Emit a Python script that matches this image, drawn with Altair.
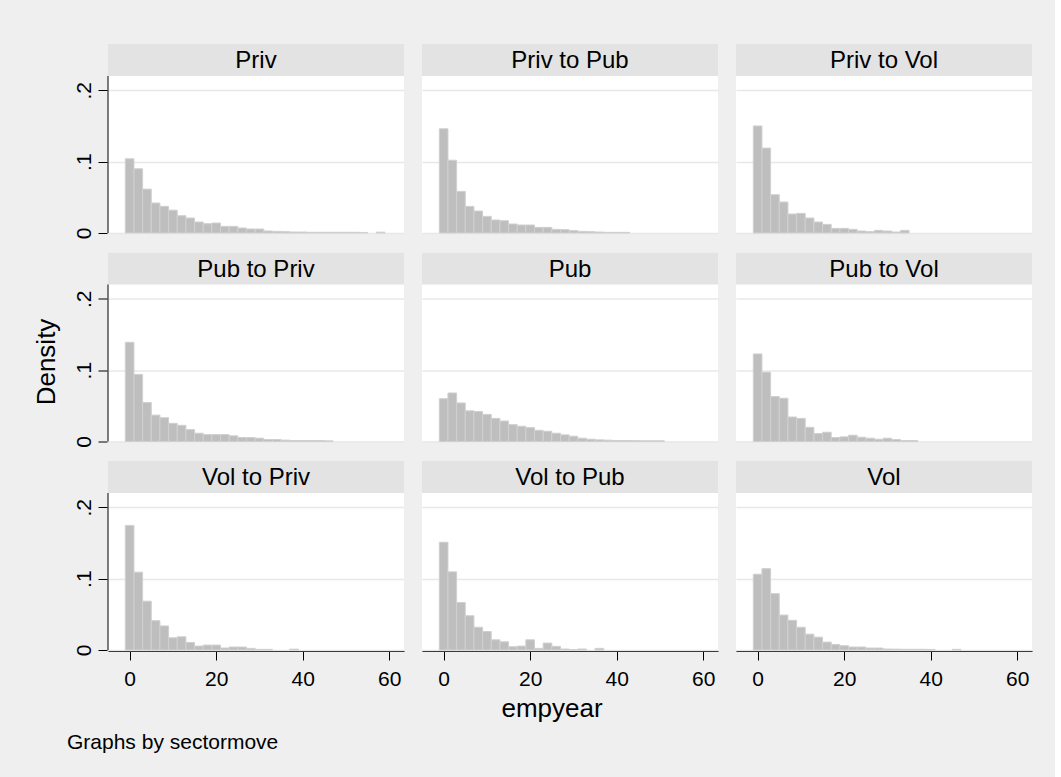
import altair as alt
import pandas as pd

# ---------------- data ----------------
panels = ["Priv", "Priv to Pub", "Priv to Vol",
          "Pub to Priv", "Pub", "Pub to Vol",
          "Vol to Priv", "Vol to Pub", "Vol"]

bin_start = -1.0   # left edge of first bin (empyear)
bin_width = 2.0    # histogram bin width

dens_priv = [0.104, 0.090, 0.0615, 0.042, 0.0373, 0.032, 0.0242, 0.021, 0.0154, 0.013,
             0.014, 0.0093, 0.0093, 0.007, 0.0056, 0.0056, 0.0028, 0.0023, 0.0019, 0.0014,
             0.0014, 0.001, 0.001, 0.001, 0.001, 0.001, 0.001, 0.0008, 0.0, 0.0012]
dens_priv_pub = [0.146, 0.102, 0.0583, 0.0373, 0.0308, 0.0233, 0.0182, 0.0172, 0.0126, 0.0112,
                 0.0112, 0.0079, 0.0079, 0.0051, 0.0047, 0.0033, 0.0023, 0.0019, 0.0014, 0.0009,
                 0.0009, 0.0009]
dens_priv_vol = [0.150, 0.119, 0.0536, 0.0434, 0.0266, 0.0275, 0.021, 0.0154, 0.0121, 0.0065,
                 0.0065, 0.0051, 0.0028, 0.0019, 0.0037, 0.0028, 0.0014, 0.0037]
dens_pub_priv = [0.139, 0.094, 0.0546, 0.037, 0.0333, 0.0255, 0.0227, 0.0167, 0.0116, 0.0097,
                 0.0097, 0.0097, 0.0079, 0.0056, 0.0056, 0.0046, 0.0028, 0.0028, 0.0019, 0.0014,
                 0.0014, 0.0014, 0.0014, 0.0009]
dens_pub = [0.060, 0.068, 0.054, 0.043, 0.042, 0.038, 0.0324, 0.0287, 0.0236, 0.0213,
            0.0194, 0.0157, 0.0144, 0.0116, 0.0093, 0.0074, 0.0046, 0.0032, 0.0023, 0.0019,
            0.0014, 0.0014, 0.0012, 0.001, 0.001, 0.001]
dens_pub_vol = [0.1227, 0.0972, 0.063, 0.0606, 0.0343, 0.0324, 0.0199, 0.0111, 0.013, 0.0056,
                0.0065, 0.0088, 0.006, 0.0046, 0.0032, 0.0046, 0.0028, 0.0014, 0.0014]
dens_vol_priv = [0.1746, 0.109, 0.0684, 0.0411, 0.0337, 0.0171, 0.0185, 0.0106, 0.0055, 0.0069,
                 0.0069, 0.0028, 0.0042, 0.0042, 0.0023, 0.0009, 0.0009, 0.0, 0.0, 0.0012]
dens_vol_pub = [0.151, 0.1095, 0.0665, 0.048, 0.0319, 0.0259, 0.0143, 0.0115, 0.0046, 0.0055,
                0.0143, 0.0023, 0.0097, 0.0051, 0.0014, 0.0005, 0.0014, 0.0, 0.0023]
dens_vol = [0.1062, 0.114, 0.079, 0.049, 0.0416, 0.0319, 0.0222, 0.018, 0.0111, 0.0078,
            0.006, 0.0042, 0.0042, 0.0028, 0.0028, 0.0014, 0.0012, 0.001, 0.001, 0.001,
            0.0008, 0.0, 0.0, 0.0009]

densities = [dens_priv, dens_priv_pub, dens_priv_vol,
             dens_pub_priv, dens_pub, dens_pub_vol,
             dens_vol_priv, dens_vol_pub, dens_vol]

x_ticks = [0, 20, 40, 60]
y_ticks = [0, 0.1, 0.2]

rows = []
for i, (p, ds) in enumerate(zip(panels, densities)):
    for k, d in enumerate(ds):
        rows.append({"panel": p,
                     "x0": bin_start + k * bin_width,
                     "x1": bin_start + (k + 1) * bin_width,
                     "d": d, "zero": 0.0,
                     "first": k == 0, "col": i % 3})
df = pd.DataFrame(rows)

# ---------------- layout ----------------
FONT = "Liberation Sans"
W = 296          # panel width
STRIP = 32       # strip height
PLOT = 157       # plot height (0 .. 0.22)
H = STRIP + PLOT
YTOP = 0.22
ymax = YTOP * H / PLOT

x_scale = alt.Scale(domain=[-5, 63.4], nice=False, zero=False)
y_scale = alt.Scale(domain=[0, ymax], nice=False, zero=True)

x_axis = alt.Axis(values=x_ticks, title=None, grid=False, domain=True,
                  domainColor="black", domainWidth=1, tickColor="black",
                  tickSize=9, tickWidth=1, labelFontSize=21, labelFont=FONT,
                  labelColor="black", labelPadding=8, labelFlush=False,
                  labelOverlap=False)
y_axis = alt.Axis(values=y_ticks, title=None, grid=True, gridColor="#e8e8e8",
                  gridWidth=1.5, domain=False, tickColor="black", tickSize=9,
                  tickWidth=1, labelFontSize=21, labelFont=FONT, labelColor="black",
                  labelAngle=270, labelAlign="center", labelBaseline="alphabetic",
                  labelPadding=8, labelFlush=False, labelOverlap=False,
                  labelExpr="datum.value == 0 ? '0' : '.' + round(datum.value * 10)")

bars = alt.Chart().mark_rect(fill="#bebebe", stroke="#d0d0d0", strokeWidth=1).encode(
    x=alt.X("x0:Q", scale=x_scale, axis=x_axis),
    x2="x1:Q",
    y=alt.Y("d:Q", scale=y_scale, axis=y_axis),
    y2="zero:Q",
).transform_filter("datum.d > 0")

strip = alt.Chart().mark_rect(fill="#e3e3e3").encode(
    x=alt.value(0), x2=alt.value(W), y=alt.value(0), y2=alt.value(STRIP)
).transform_filter("datum.first")

strip_text = alt.Chart().mark_text(fontSize=24, font=FONT, color="black",
                                   baseline="middle", align="center").encode(
    x=alt.value(W / 2), y=alt.value(STRIP / 2 + 1), text="panel:N"
).transform_filter("datum.first")

yline = alt.Chart().mark_rule(color="black", strokeWidth=1).encode(
    x=alt.value(0), y=alt.value(STRIP), y2=alt.value(H)
).transform_filter("datum.first && datum.col == 0")

grid = alt.layer(strip, bars, strip_text, yline).properties(
    width=W, height=H
).facet(
    facet=alt.Facet("panel:N", sort=panels,
                    header=alt.Header(labels=False, title=None, labelFontSize=0,
                                      labelPadding=0, labelExpr="''")),
    columns=3,
    spacing={"row": 18.5, "column": 18},
    data=df,
)

ytitle = alt.Chart(pd.DataFrame({"t": ["Density"]})).mark_text(
    angle=270, fontSize=26, font=FONT, color="black", baseline="middle", align="center"
).encode(text="t:N", x=alt.value(22), y=alt.value(318)).properties(
    width=40, height=604,
    view=alt.ViewBackground(fill="transparent", stroke="transparent"))

xtitle = alt.Chart(pd.DataFrame({"t": ["empyear"]})).mark_text(
    fontSize=26, font=FONT, color="black", baseline="alphabetic", align="center"
).encode(text="t:N", x=alt.value(527), y=alt.value(28))

note = alt.Chart(pd.DataFrame({"t": ["Graphs by sectormove"]})).mark_text(
    fontSize=21, font=FONT, color="black", baseline="alphabetic", align="left"
).encode(text="t:N", x=alt.value(42), y=alt.value(59.5))

foot = alt.layer(xtitle, note).properties(
    width=1000, height=89,
    view=alt.ViewBackground(fill="transparent", stroke="transparent"))

top = alt.hconcat(ytitle, grid, spacing=7)

chart = alt.vconcat(top, foot, spacing=0).properties(
    background="#efefef",
    padding={"left": 25, "top": 44, "right": 23, "bottom": 0},
).configure_view(fill="white", stroke="transparent", strokeWidth=0
).configure_header(labels=False, labelFontSize=0, labelPadding=0)

chart.save("out.html", embed_options={"renderer": "svg", "actions": False})
